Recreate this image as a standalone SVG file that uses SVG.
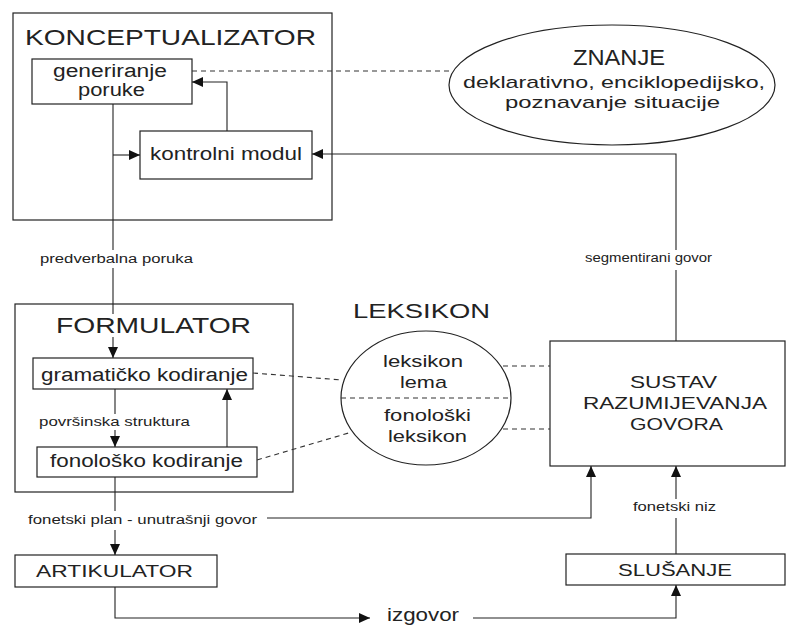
<svg xmlns="http://www.w3.org/2000/svg" width="787" height="625" viewBox="0 0 787 625">
<defs>
<marker id="arr" markerUnits="userSpaceOnUse" markerWidth="12" markerHeight="10" refX="11" refY="5" orient="auto">
<path d="M0,0 L11,5 L0,10 z" fill="#111"/>
</marker>
<style>
.box{fill:none;stroke:#222;stroke-width:1.2}
.ln{fill:none;stroke:#222;stroke-width:1.1}
.ar{fill:none;stroke:#222;stroke-width:1.1;marker-end:url(#arr)}
.ds{fill:none;stroke:#333;stroke-width:1.1;stroke-dasharray:5,4}
text{font-family:"Liberation Sans",Arial,sans-serif;fill:#222}
.t1{font-size:22px}
.t2{font-size:18px}
.t3{font-size:17px}
.t4{font-size:12.5px}
</style>
</defs>
<rect width="787" height="625" fill="#fff"/>

<g id="konceptualizator">
<rect class="box" x="13" y="13" width="319" height="207"/>
<text class="t1" x="25" y="45" textLength="291" lengthAdjust="spacingAndGlyphs">KONCEPTUALIZATOR</text>
</g>
<g id="generiranje">
<rect class="box" x="32" y="59" width="160" height="45"/>
<text class="t2" x="53" y="77" textLength="114" lengthAdjust="spacingAndGlyphs">generiranje</text>
<text class="t2" x="78" y="96" textLength="67" lengthAdjust="spacingAndGlyphs">poruke</text>
</g>
<g id="kontrolni">
<rect class="box" x="140" y="131" width="172" height="48"/>
<text class="t2" x="150" y="160" textLength="152" lengthAdjust="spacingAndGlyphs">kontrolni modul</text>
</g>
<g id="znanje">
<ellipse class="box" cx="612" cy="85" rx="163" ry="60"/>
<text class="t1" x="573" y="65" textLength="92" lengthAdjust="spacingAndGlyphs">ZNANJE</text>
<text class="t3" x="463" y="88" textLength="302" lengthAdjust="spacingAndGlyphs">deklarativno, enciklopedijsko,</text>
<text class="t3" x="505" y="108" textLength="215" lengthAdjust="spacingAndGlyphs">poznavanje situacije</text>
</g>
<g id="formulator">
<rect class="box" x="15" y="304" width="278" height="188"/>
<text class="t1" x="56" y="333" textLength="195" lengthAdjust="spacingAndGlyphs">FORMULATOR</text>
</g>
<g id="gramaticko">
<rect class="box" x="33" y="358" width="220" height="31"/>
<text class="t2" x="41" y="381" textLength="207" lengthAdjust="spacingAndGlyphs">gramatičko kodiranje</text>
</g>
<g id="fonolosko">
<rect class="box" x="37" y="447" width="220" height="30"/>
<text class="t2" x="50" y="467" textLength="193" lengthAdjust="spacingAndGlyphs">fonološko kodiranje</text>
</g>
<g id="leksikon">
<text class="t1" x="353" y="318" textLength="137" lengthAdjust="spacingAndGlyphs" style="font-size:20px">LEKSIKON</text>
<ellipse class="box" cx="426" cy="398" rx="85" ry="67"/>
<line class="ds" x1="341" y1="398" x2="511" y2="398"/>
<text class="t3" x="383" y="367" textLength="80" lengthAdjust="spacingAndGlyphs">leksikon</text>
<text class="t3" x="400" y="388" textLength="47" lengthAdjust="spacingAndGlyphs">lema</text>
<text class="t3" x="384" y="421" textLength="87" lengthAdjust="spacingAndGlyphs">fonološki</text>
<text class="t3" x="388" y="442" textLength="79" lengthAdjust="spacingAndGlyphs">leksikon</text>
</g>
<g id="sustav">
<rect class="box" x="550" y="341" width="235" height="125"/>
<text class="t3" x="630" y="388" textLength="87" lengthAdjust="spacingAndGlyphs">SUSTAV</text>
<text class="t3" x="583" y="409" textLength="184" lengthAdjust="spacingAndGlyphs">RAZUMIJEVANJA</text>
<text class="t3" x="630" y="430" textLength="93" lengthAdjust="spacingAndGlyphs">GOVORA</text>
</g>
<g id="artikulator">
<rect class="box" x="15" y="555" width="202" height="32"/>
<text class="t3" x="36" y="577" textLength="157" lengthAdjust="spacingAndGlyphs">ARTIKULATOR</text>
</g>
<g id="slusanje">
<rect class="box" x="566" y="554" width="219" height="31"/>
<text class="t3" x="618" y="576" textLength="114" lengthAdjust="spacingAndGlyphs">SLUŠANJE</text>
</g>

<g id="connectors">
<!-- generiranje -> formulator -->
<polyline class="ln" points="113,104 113,250"/>
<text class="t4" x="40" y="263" textLength="153" lengthAdjust="spacingAndGlyphs">predverbalna poruka</text>
<polyline class="ln" points="113,268 113,314"/>
<polyline class="ar" points="113,337 113,358"/>
<!-- to kontrolni -->
<polyline class="ar" points="113,155 140,155"/>
<!-- kontrolni -> generiranje -->
<polyline class="ar" points="227,131 227,82 192,82"/>
<!-- znanje dashed -->
<line class="ds" x1="192" y1="71" x2="452" y2="71"/>
<!-- sustav -> kontrolni -->
<polyline class="ln" points="676,341 676,270"/>
<text class="t4" x="585" y="262" textLength="127" lengthAdjust="spacingAndGlyphs">segmentirani govor</text>
<polyline class="ar" points="676,250 676,154 312,154"/>
<!-- gramaticko -> fonolosko -->
<polyline class="ln" points="115,389 115,414"/>
<text class="t4" x="39" y="426" textLength="151" lengthAdjust="spacingAndGlyphs">površinska struktura</text>
<polyline class="ar" points="115,430 115,447"/>
<polyline class="ar" points="227,447 227,389"/>
<!-- dashed to leksikon -->
<line class="ds" x1="253" y1="373" x2="342" y2="380"/>
<line class="ds" x1="257" y1="460" x2="352" y2="432"/>
<line class="ds" x1="503" y1="366" x2="550" y2="366"/>
<line class="ds" x1="503" y1="429" x2="550" y2="429"/>
<!-- fonolosko -> artikulator -->
<polyline class="ln" points="115,477 115,511"/>
<text class="t4" x="28" y="524" textLength="229" lengthAdjust="spacingAndGlyphs">fonetski plan - unutrašnji govor</text>
<polyline class="ar" points="115,530 115,555"/>
<polyline class="ar" points="267,518 591,518 591,466"/>
<!-- artikulator -> izgovor -->
<polyline class="ar" points="115,587 115,618 370,618"/>
<text class="t2" x="387" y="621" textLength="72" lengthAdjust="spacingAndGlyphs">izgovor</text>
<polyline class="ar" points="473,618 676,618 676,585"/>
<!-- slusanje -> sustav -->
<polyline class="ln" points="676,554 676,518"/>
<text class="t4" x="633" y="511" textLength="83" lengthAdjust="spacingAndGlyphs">fonetski niz</text>
<polyline class="ar" points="676,499 676,466"/>
</g>
</svg>
